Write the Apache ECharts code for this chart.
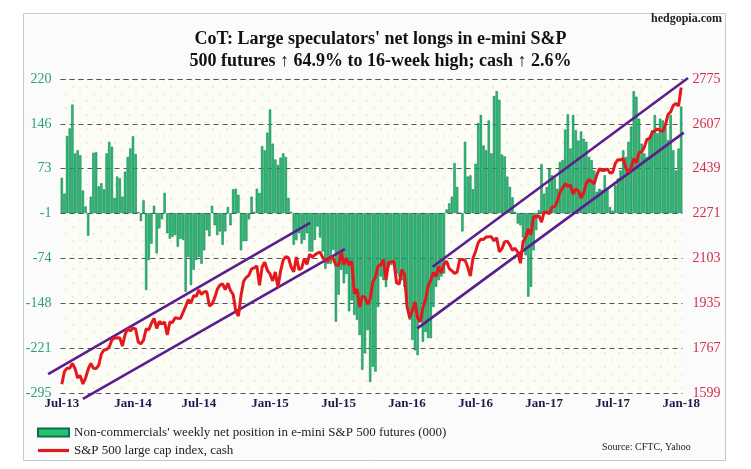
<!DOCTYPE html>
<html><head><meta charset="utf-8">
<script src="https://cdn.jsdelivr.net/npm/echarts@6/dist/echarts.min.js"></script>
<style>html,body{margin:0;padding:0;background:#fff}#c{width:751px;height:469px}</style>
</head><body><div id="c"></div>
<script>
// ---- data ----
const START_DATE = '2013-07-02';   // first weekly CoT observation (Tuesday)
const WEEK_COUNT = 236;
const MONTHS = ['Jan','Feb','Mar','Apr','May','Jun','Jul','Aug','Sep','Oct','Nov','Dec'];

// Non-commercials' weekly net position, e-mini S&P 500 futures (000)
const netLongs = [
  58, 32, 126, 139, 178, 98, 103, 95, 37, 11,
  -37, 27, 99, 100, 44, 49, 39, 98, 117, 109,
  25, 60, 57, 27, 68, 92, 106, 126, 97, 2,
  -13, 21, -126, -77, -50, 12, -66, -25, -10, 33,
  -33, -42, -39, -36, -55, -42, -44, -129, -72, -118,
  -93, -77, -72, -83, -61, -28, -38, 12, -20, -36,
  -30, -52, -30, 10, -20, 39, 40, 30, -61, -46,
  -46, -10, 27, 2, 40, 33, 110, 103, 132, 170,
  114, 88, 79, 91, 98, 92, 25, 2, -52, -44,
  -33, -50, -44, -33, -63, -63, -44, -22, -40, -63,
  -91, -83, -83, -60, -178, -134, -93, -115, -100, -161,
  -143, -167, -175, -200, -257, -230, -192, -277, -252, -260,
  -154, -104, -110, -121, -88, -85, -85, -99, -104, -110,
  -121, -150, -175, -208, -225, -233, -175, -211, -195, -205,
  -205, -154, -121, -110, -104, -99, 6, 16, 27, 82,
  43, 0, -30, 117, 60, 62, 39, 81, 148, 161,
  111, 103, 152, 98, 192, 200, 186, 96, 93, 60,
  43, 26, 2, -17, -20, -40, -69, -137, -121, -61,
  -28, 5, 80, 32, 43, 73, 62, 57, 40, 84,
  87, 137, 162, 106, 161, 136, 119, 134, 122, 117,
  92, 87, 70, 35, 40, 38, 62, 40, 10, 4,
  46, 57, 70, 103, 92, 117, 142, 200, 191, 155,
  114, 98, 92, 122, 136, 161, 131, 155, 152, 141,
  120, 161, 103, 70, 106, 174.8
];

// S&P 500 large cap index, cash (weekly)
const spxCash = [
  // 2013
  1632, 1680, 1692, 1692, 1710, 1691, 1656, 1664, 1633, 1655,
  1688, 1710, 1692, 1691, 1703, 1745, 1760, 1762, 1771, 1798,
  1805, 1806, 1805, 1775, 1818, 1841,
  // 2014
  1831, 1842, 1839, 1790, 1783, 1797, 1839, 1836, 1860, 1878,
  1841, 1867, 1858, 1865, 1816, 1865, 1863, 1881, 1879, 1878,
  1901, 1924, 1949, 1936, 1963, 1961, 1985, 1968, 1978, 1978,
  1925, 1932, 1955, 1988, 2003, 2008, 1986, 2010, 1983, 1968,
  1906, 1887, 1965, 2018, 2032, 2040, 2064, 2068, 2075, 2002,
  2071, 2089,
  // 2015
  2058, 2045, 2019, 2052, 1995, 2056, 2097, 2110, 2105, 2071,
  2053, 2108, 2061, 2067, 2102, 2081, 2118, 2108, 2116, 2123,
  2126, 2107, 2093, 2094, 2110, 2102, 2077, 2077, 2127, 2080,
  2104, 2078, 2092, 1971, 1989, 1921, 1961, 1958, 1931, 1951,
  2015, 2033, 2075, 2079, 2099, 2023, 2089, 2090, 2092, 2012,
  2006, 2061,
  // 2016
  2044, 1922, 1880, 1907, 1940, 1880, 1865, 1918, 1948, 2000,
  2022, 2050, 2036, 2073, 2048, 2081, 2092, 2065, 2057, 2047,
  2052, 2099, 2099, 2096, 2071, 2037, 2103, 2130, 2162, 2175,
  2174, 2183, 2184, 2184, 2169, 2180, 2128, 2139, 2165, 2168,
  2154, 2133, 2141, 2126, 2085, 2165, 2182, 2213, 2192, 2260,
  2258, 2264, 2239,
  // 2017
  2277, 2275, 2271, 2295, 2297, 2316, 2351, 2367, 2383, 2373,
  2378, 2344, 2363, 2356, 2329, 2349, 2384, 2399, 2391, 2382,
  2416, 2439, 2432, 2433, 2438, 2423, 2425, 2459, 2473, 2472,
  2477, 2441, 2426, 2443, 2477, 2461, 2500, 2502, 2519, 2549,
  2553, 2575, 2581, 2588, 2582, 2579, 2602, 2642, 2652, 2676,
  2683, 2674,
  // 2018
  2743
];

// trend-channel end points: [week index, index level]
const channel1Upper = [[-5.2, 1670], [94.2, 2236]];
const channel1Lower = [[8.0, 1577], [107.4, 2138]];
const channel2Upper = [[140.7, 2072], [237.6, 2779]];
const channel2Lower = [[134.9, 1841], [236.0, 2574]];

const leftAxisRange = [-295, 220];
const rightAxisRange = [1599, 2775];
const AXIS_SPLITS = 7;

const BAR_NAME = "Non-commercials' weekly net position in e-mini S&P 500 futures (000)";
const LINE_NAME = 'S&P 500 large cap index, cash';
const TITLE_TEXT = "CoT: Large speculators' net longs in e-mini S&P\n500 futures \u2191 64.9% to 16-week high; cash \u2191 2.6%";

// ---- build ----
const categories = [];
(function () {
  const d0 = new Date(START_DATE + 'T00:00:00Z').getTime();
  for (let k = 0; k < WEEK_COUNT; k++) {
    categories.push(new Date(d0 + k * 7 * 864e5).toISOString().slice(0, 10));
  }
})();

const SERIF = "'Liberation Serif', 'Times New Roman', serif";

const pat = document.createElement('canvas');
pat.width = 14; pat.height = 14;
(function () {
  const g = pat.getContext('2d');
  g.fillStyle = '#fdfdf8'; g.fillRect(0, 0, 14, 14);
  g.fillStyle = '#efe7ae';
  g.beginPath(); g.arc(3, 3, 0.9, 0, 7); g.fill();
  g.beginPath(); g.arc(10, 10, 0.9, 0, 7); g.fill();
})();

// main plot geometry
const G_LEFT = 60.5, G_TOP = 79, G_W = 622, G_H = 314;
const BAND = G_W / WEEK_COUNT;
// overlay grid for the trend channels (wider so that lines may run past the plot edge)
const OV_X = [-5.5, WEEK_COUNT + 2.5];
const OV_Y = [1515, rightAxisRange[1]];
const OV_LEFT = G_LEFT + (OV_X[0] + 0.5) * BAND;
const OV_W = (OV_X[1] - OV_X[0]) * BAND;
const OV_H = G_H * (OV_Y[1] - OV_Y[0]) / (rightAxisRange[1] - rightAxisRange[0]);

const chart = echarts.init(document.getElementById('c'), null, {renderer: 'canvas'});
const purple = '#5a1e8e';
function chan(data) {
  return {
    type: 'line', xAxisIndex: 1, yAxisIndex: 2, data: data, clip: false,
    symbol: 'none', silent: true, z: 4,
    lineStyle: {color: purple, width: 2.6}
  };
}
chart.setOption({
  animation: false,
  backgroundColor: '#ffffff',
  title: {
    text: TITLE_TEXT, left: 375.5, top: 23, textAlign: 'center',
    textStyle: {fontFamily: SERIF, fontWeight: 'bold', fontSize: 18, lineHeight: 22, color: '#111'}
  },
  graphic: [
    {type: 'rect', z: -100, shape: {x: 23.5, y: 13.5, width: 702, height: 447},
     style: {fill: '#fbfbfb', stroke: '#bccadb', lineWidth: 1}},
    {type: 'text', right: 29, top: 13,
     style: {text: 'hedgopia.com', fontFamily: SERIF, fontWeight: 'bold', fontSize: 12, fill: '#222'}},
    {type: 'text', left: 602, top: 442,
     style: {text: 'Source: CFTC, Yahoo', fontFamily: SERIF, fontSize: 10, fill: '#222'}}
  ],
  legend: {
    left: 32, top: 421, orient: 'vertical', itemWidth: 31, itemHeight: 8, itemGap: 5,
    symbolKeepAspect: true,
    textStyle: {fontFamily: SERIF, fontSize: 13, color: '#222'},
    data: [
      {name: BAR_NAME, icon: 'rect'},
      {name: LINE_NAME, icon: 'path://M0,0 L31,0 L31,3.2 L0,3.2 Z'}
    ]
  },
  grid: [
    {left: G_LEFT, top: G_TOP, width: G_W, height: G_H, show: true, borderWidth: 0,
     backgroundColor: {image: pat, repeat: 'repeat'}},
    {left: OV_LEFT, top: G_TOP, width: OV_W, height: OV_H, show: false}
  ],
  xAxis: [{
    type: 'category', gridIndex: 0, data: categories, boundaryGap: true,
    axisLine: {show: false}, axisTick: {show: false}, splitLine: {show: false},
    axisLabel: {
      margin: 4, fontFamily: SERIF, fontWeight: 'bold', fontSize: 13, color: '#1b1b4b',
      interval: function (idx, val) {
        const m = +val.slice(5, 7), d = +val.slice(8, 10);
        return (m === 1 || m === 7) && d <= 7;
      },
      formatter: function (val) { return MONTHS[+val.slice(5, 7) - 1] + '-' + val.slice(2, 4); }
    }
  }, {
    type: 'value', gridIndex: 1, show: false, min: OV_X[0], max: OV_X[1]
  }],
  yAxis: [{
    type: 'value', gridIndex: 0, min: leftAxisRange[0], max: leftAxisRange[1],
    interval: (leftAxisRange[1] - leftAxisRange[0]) / AXIS_SPLITS,
    axisLine: {show: false}, axisTick: {show: false},
    splitLine: {show: true, lineStyle: {color: '#555', type: [5, 4], width: 1}},
    axisLabel: {margin: 9, fontFamily: SERIF, fontSize: 14, color: '#2f9c7c',
                formatter: function (v) { return String(Math.round(v)); }}
  }, {
    type: 'value', gridIndex: 0, min: rightAxisRange[0], max: rightAxisRange[1],
    interval: (rightAxisRange[1] - rightAxisRange[0]) / AXIS_SPLITS,
    axisLine: {show: false}, axisTick: {show: false}, splitLine: {show: false},
    axisLabel: {margin: 10, fontFamily: SERIF, fontSize: 14, color: '#d12d4a',
                formatter: function (v) { return String(Math.round(v)); }}
  }, {
    type: 'value', gridIndex: 1, show: false, min: OV_Y[0], max: OV_Y[1]
  }],
  series: [
    {name: BAR_NAME, type: 'bar', data: netLongs, xAxisIndex: 0, yAxisIndex: 0,
     barCategoryGap: '12%', z: 2,
     itemStyle: {color: '#25c46c', borderColor: '#0b6e52', borderWidth: 0.5}},
    chan(channel1Upper), chan(channel1Lower), chan(channel2Upper), chan(channel2Lower),
    {name: LINE_NAME, type: 'line', data: spxCash, xAxisIndex: 0, yAxisIndex: 1,
     symbol: 'none', z: 5, color: '#e4181e',
     lineStyle: {color: '#e4181e', width: 3}}
  ]
});
</script>
</body></html>
